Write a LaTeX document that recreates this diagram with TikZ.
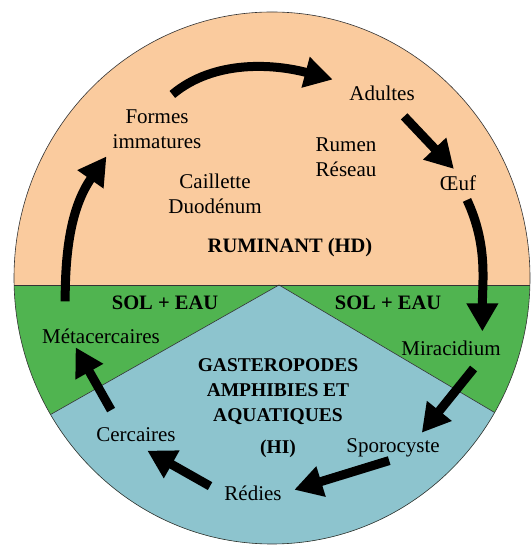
\documentclass[tikz,border=0pt]{standalone}
\usepackage{fontspec}
\setmainfont{Liberation Serif}
\usetikzlibrary{arrows.meta}
\definecolor{cycPeach}{HTML}{FACB9E}
\definecolor{cycGrass}{HTML}{50B450}
\definecolor{cycWater}{HTML}{8DC4CE}
\tikzset{
  cyc/stage/.style={inner sep=2pt, align=center, font=\fontsize{21}{25}\selectfont},
  cyc/organ/.style={cyc/stage},
  cyc/host/.style={inner sep=2pt, align=center, font=\fontsize{20.5}{25}\selectfont\bfseries},
  cyc/snail/.style={cyc/host, font=\fontsize{19.5}{25}\selectfont\bfseries},
  cyc/border/.style={draw=black!80, line width=0.6pt},
  cyc/arr/.style={line width=9pt, -{Triangle[length=28pt,width=30pt]}}
}

\begin{document}
\begin{tikzpicture}[x=1pt, y=1pt]
  \fill[white] (0,0) rectangle (529,545);
  \begin{scope}
    \clip (272,267) ellipse [x radius=258, y radius=266];
    \fill[cycPeach] (0,260) rectangle (545,545);
    \fill[cycGrass] (0,-10) rectangle (545,260);
    \fill[cycWater] (279,260) -- (-206,-15) -- (744,-15) -- cycle;
    \draw[cyc/border] (0,260) -- (545,260);
    \draw[cyc/border] (-206,-15) -- (279,260) -- (744,-15);
  \end{scope}
  \draw[cyc/border] (272,267) ellipse [x radius=258, y radius=266];

  \node[cyc/stage] (formes) at (157,416) {Formes\\immatures};
  \node[cyc/stage] (adultes) at (382,452) {Adultes};
  \node[cyc/stage] (oeuf) at (458,362) {Œuf};
  \node[cyc/stage] (mira) at (451,197) {Miracidium};
  \node[cyc/stage] (sporo) at (393,97) {Sporocyste};
  \node[cyc/stage] (redies) at (253,52) {Rédies};
  \node[cyc/stage] (cerc) at (136,110) {Cercaires};
  \node[cyc/stage] (meta) at (101,209) {Métacercaires};

  \node[cyc/organ] (rumen) at (346,388) {Rumen\\Réseau};
  \node[cyc/organ] (caillette) at (215,351) {Caillette\\Duodénum};

  \node[cyc/host] (ruminant) at (290,297) {RUMINANT (HD)};
  \node[cyc/host] (solL) at (165,242) {SOL + EAU};
  \node[cyc/host] (solR) at (388,242) {SOL + EAU};
  \node[cyc/snail] (gast) at (278,137) {GASTEROPODES\\AMPHIBIES ET\\AQUATIQUES\\[7pt](HI)};

  \draw[cyc/arr, shorten <=20pt, shorten >=15pt] (formes.north) to[out=40, in=165] (adultes.north west);
  \draw[cyc/arr, shorten <=19pt, shorten >=6pt] (adultes) -- (oeuf.north);
  \draw[cyc/arr, shorten <=8pt, shorten >=7pt] (oeuf.-60) to[out=-65, in=90] (mira.17);
  \draw[cyc/arr, shorten <=14pt, shorten >=5pt] (mira.-17) -- (sporo.24);
  \draw[cyc/arr, shorten <=4pt, shorten >=11pt] (sporo.south) -- (redies.east);
  \draw[cyc/arr, shorten <=14pt, shorten >=13pt] (redies.west) -- (cerc.south);
  \draw[cyc/arr, shorten <=18pt, shorten >=2pt] (cerc.150) -- (meta.200);
  \draw[cyc/arr, shorten <=25pt, shorten >=7pt] (meta.165) to[out=90, in=235] (formes.south west);
\end{tikzpicture}
\end{document}
